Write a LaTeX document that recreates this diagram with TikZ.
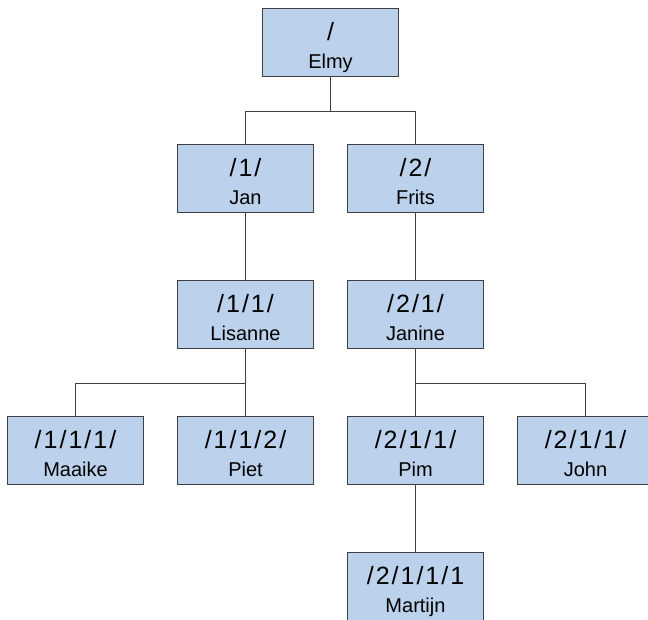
\documentclass[tikz,border=0pt]{standalone}
\usepackage{fontspec}
\setmainfont{Liberation Sans}
\newfontfamily\numfont{Liberation Sans}[LetterSpace=8]
\usetikzlibrary{positioning}
\definecolor{boxblue}{RGB}{188,210,236}
\definecolor{linegray}{RGB}{64,64,64}
\newcommand{\pathnum}[1]{{\numfont\fontsize{25}{25}\selectfont #1}}

\begin{document}
\begin{tikzpicture}[node distance=136pt,on grid,
    person/.style={draw=linegray,fill=boxblue,line width=1.1pt,minimum width=136pt,minimum height=68pt,
      inner sep=0pt,align=center,text height=52pt,text depth=0pt,font=\fontsize{20}{28.5}\selectfont},
    link/.style={draw=linegray,line width=1.1pt}]
    \useasboundingbox (-330.5pt,42.5pt) rectangle (317.5pt,-576.5pt);
    \clip (-330.5pt,42.5pt) rectangle (317.5pt,-576.5pt);
    \node[person] (elmy) {\pathnum{/}\\Elmy};
    \node[person] (jan) [below left=136pt and 85pt of elmy] {\pathnum{/1/}\\Jan};
    \node[person] (frits) [below right=136pt and 85pt of elmy] {\pathnum{/2/}\\Frits};
    \node[person] (lisanne) [below=of jan] {\pathnum{/1/1/}\\Lisanne};
    \node[person] (janine) [below=of frits] {\pathnum{/2/1/}\\Janine};
    \node[person] (maaike) [below left=136pt and 170pt of lisanne] {\pathnum{/1/1/1/}\\Maaike};
    \node[person] (piet) [below=of lisanne] {\pathnum{/1/1/2/}\\Piet};
    \node[person] (pim) [below=of janine] {\pathnum{/2/1/1/}\\Pim};
    \node[person] (john) [below right=136pt and 170pt of janine] {\pathnum{/2/1/1/}\\John};
    \node[person] (martijn) [below=of pim] {\pathnum{/2/1/1/1}\\Martijn};
    % parent to child: down to the middle, then across and down
    \foreach \from/\to in {elmy/jan,elmy/frits,jan/lisanne,frits/janine,lisanne/maaike,
        lisanne/piet,janine/pim,janine/john,pim/martijn}
      \draw[link] (\from.south) -- ++(0,-34pt) -| (\to.north);
\end{tikzpicture}
\end{document}
